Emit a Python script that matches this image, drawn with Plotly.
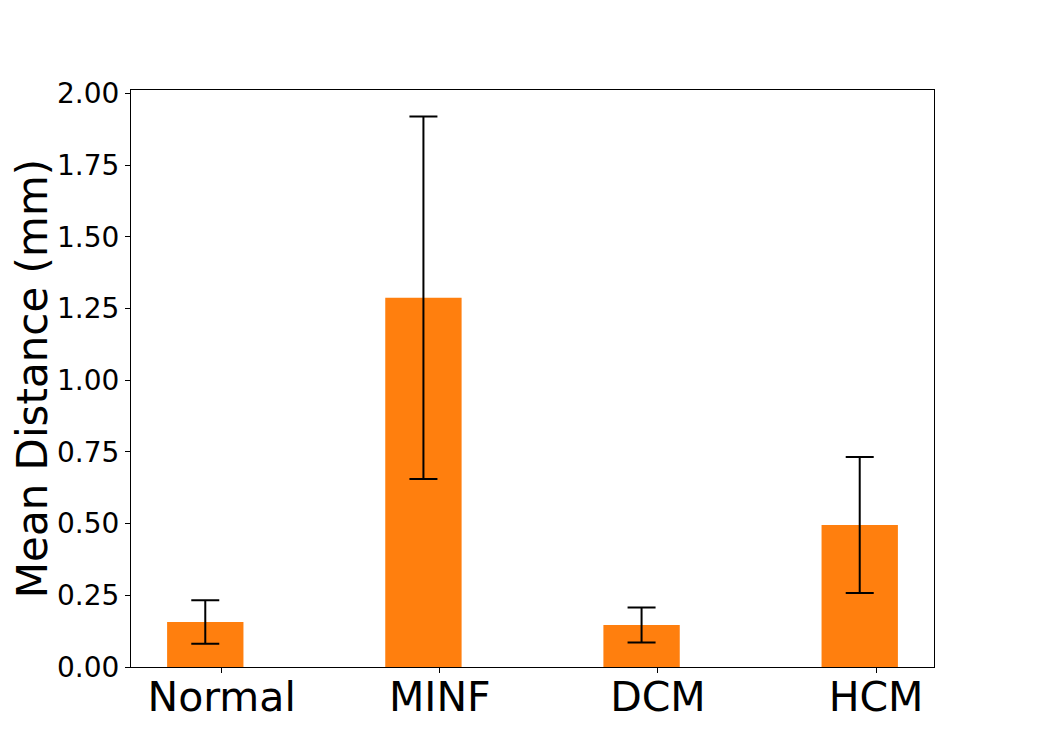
import plotly.graph_objects as go

categories = ["Normal", "MINF", "DCM", "HCM"]
means = [0.157, 1.287, 0.146, 0.495]
errors = [0.076, 0.632, 0.061, 0.237]
positions = [0, 1, 2, 3]
yticks = [0.0, 0.25, 0.5, 0.75, 1.0, 1.25, 1.5, 1.75, 2.0]
ytick_text = ["0.00", "0.25", "0.50", "0.75", "1.00", "1.25", "1.50", "1.75", "2.00"]

fig = go.Figure()
fig.add_trace(go.Bar(
    x=positions, y=means, width=0.35, offset=-0.25,
    marker=dict(color="#ff7f0e", line=dict(width=0)),
    error_y=dict(type="data", array=errors, visible=True,
                 color="black", thickness=2, width=14),
))

fig.update_layout(
    width=1038, height=749,
    margin=dict(l=123, r=112, t=82, b=90, autoexpand=False),
    plot_bgcolor="white", paper_bgcolor="white",
    font=dict(family="DejaVu Sans", color="black"),
    showlegend=False,
    xaxis=dict(
        range=[-0.4155, 3.2655], tickvals=positions, ticktext=categories,
        tickfont=dict(size=41, color="black"), ticklabelstandoff=-11,
        showline=True, linecolor="black", linewidth=1, mirror=True,
        ticks="outside", ticklen=5, tickwidth=1, tickcolor="black",
        showgrid=False, zeroline=False, automargin=False,
    ),
    yaxis=dict(
        range=[0, 2.0115], tickvals=yticks, ticktext=ytick_text,
        tickfont=dict(size=28, color="black"),
        showline=True, linecolor="black", linewidth=1, mirror=True,
        ticks="outside", ticklen=5, tickwidth=1, tickcolor="black",
        showgrid=False, zeroline=False, automargin=False,
        title=dict(text="Mean Distance (mm)", font=dict(size=42, color="black"), standoff=16),
    ),
)

fig.write_html("out.html")
